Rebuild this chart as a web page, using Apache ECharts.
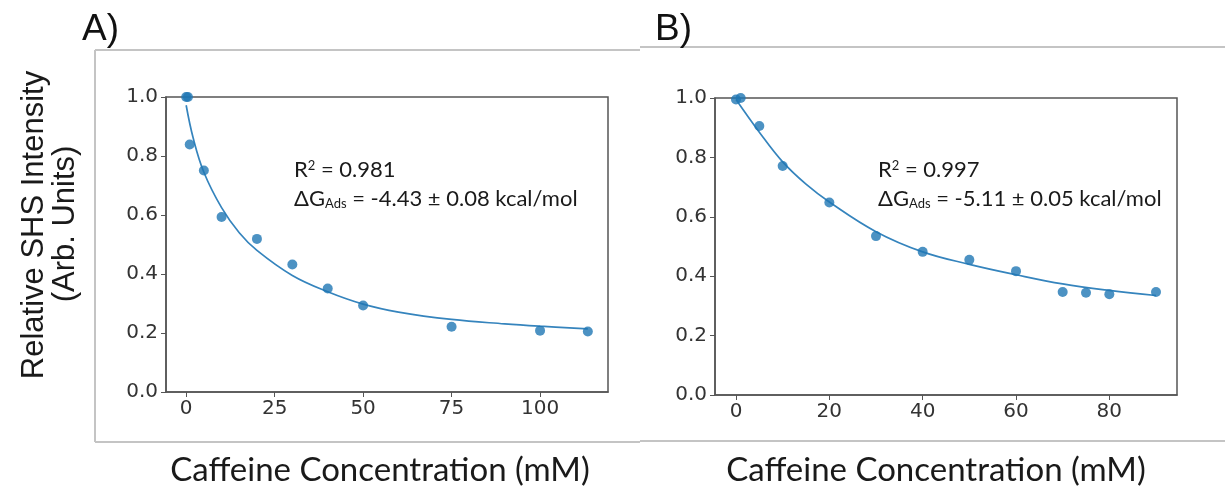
<!DOCTYPE html>
<html>
<head>
<meta charset="utf-8">
<script src="https://cdn.jsdelivr.net/npm/echarts@6/dist/echarts.min.js"></script>
<style>
html, body { margin: 0; padding: 0; background: #fff; }
#chart { width: 1225px; height: 488px; }
</style>
</head>
<body>
<div id="chart"></div>
<script>
// panel A: measured points and fitted curve
const concA = [0, 0.5, 1, 5, 10, 20, 30, 40, 50, 75, 100, 113.5];
const intensityA = [1.0, 1.0, 0.839, 0.751, 0.593, 0.519, 0.432, 0.351, 0.293, 0.221, 0.208, 0.205];
const fitConcA = [0, 2, 5, 10, 15, 20, 30, 40, 50, 60, 75, 90, 100, 113.5];
const fitA = [0.972, 0.86, 0.745, 0.625, 0.54, 0.48, 0.395, 0.34, 0.298, 0.271, 0.246, 0.231, 0.223, 0.214];

// panel B
const concB = [0, 1, 5, 10, 20, 30, 40, 50, 60, 70, 75, 80, 90];
const intensityB = [0.995, 1.0, 0.906, 0.771, 0.648, 0.535, 0.482, 0.455, 0.417, 0.347, 0.344, 0.339, 0.347];
const fitConcB = [0, 5, 10, 15, 20, 30, 40, 50, 60, 70, 80, 90];
const fitB = [0.995, 0.885, 0.785, 0.71, 0.65, 0.55, 0.482, 0.44, 0.405, 0.374, 0.352, 0.335];

const ticksA = [0, 25, 50, 75, 100];
const ticksB = [0, 20, 40, 60, 80];

const blue = "#1f77b4";
const tickFont = { fontFamily: "DejaVu Sans", fontSize: 20, color: "#333" };

const zip = (xs, ys) => xs.map((x, i) => [x, ys[i]]);

function xAxisFor(gridIndex, min, max, ticks) {
  return {
    type: "value",
    gridIndex: gridIndex,
    min: min,
    max: max,
    splitLine: { show: false },
    axisLine: { onZero: false, lineStyle: { color: "#555", width: 1.5 } },
    axisTick: { show: true, length: 5, customValues: ticks, lineStyle: { color: "#555" } },
    axisLabel: Object.assign({ customValues: ticks, margin: 7 }, tickFont),
  };
}

function yAxisFor(gridIndex) {
  return {
    type: "value",
    gridIndex: gridIndex,
    min: 0,
    max: 1,
    interval: 0.2,
    splitLine: { show: false },
    axisLine: { show: true, onZero: false, lineStyle: { color: "#555", width: 1.5 } },
    axisTick: { show: true, length: 5, lineStyle: { color: "#555" } },
    axisLabel: Object.assign({ margin: 8, formatter: (v) => v.toFixed(1) }, tickFont),
  };
}

function annotation(left, r2, dg) {
  const rich = {
    sup: { fontFamily: "Lato", fontSize: 13, verticalAlign: "top", color: "#1a1a1a" },
    sub: { fontFamily: "Lato", fontSize: 13, verticalAlign: "bottom", color: "#1a1a1a" },
  };
  const base = { fontFamily: "Lato", fontSize: 22, fill: "#1a1a1a", rich: rich };
  return [
    { type: "text", left: left, top: 159, style: Object.assign({ text: "R{sup|2} = " + r2 }, base) },
    { type: "text", left: left, top: 188, style: Object.assign({ text: "\u0394G{sub|Ads} = " + dg }, base) },
  ];
}

function frameLine(x1, y1, x2, y2) {
  return { type: "line", shape: { x1: x1, y1: y1, x2: x2, y2: y2 }, style: { stroke: "#c4c4c4", lineWidth: 2 } };
}

const chart = echarts.init(document.getElementById("chart"));

const option = {
  animation: false,
  grid: [
    { left: 166, top: 97, width: 442, height: 295, show: true, borderColor: "#555", borderWidth: 1.5 },
    { left: 715, top: 98, width: 462, height: 297, show: true, borderColor: "#555", borderWidth: 1.5 },
  ],
  xAxis: [xAxisFor(0, -5.7, 119.2, ticksA), xAxisFor(1, -4.5, 94.5, ticksB)],
  yAxis: [yAxisFor(0), yAxisFor(1)],
  series: [
    {
      type: "line", xAxisIndex: 0, yAxisIndex: 0, data: zip(fitConcA, fitA),
      smooth: 0.4, showSymbol: false, lineStyle: { color: "#3584bd", width: 1.7 }, z: 2,
    },
    {
      type: "scatter", xAxisIndex: 0, yAxisIndex: 0, data: zip(concA, intensityA),
      symbolSize: 10, itemStyle: { color: blue }, z: 3,
    },
    {
      type: "line", xAxisIndex: 1, yAxisIndex: 1, data: zip(fitConcB, fitB),
      smooth: 0.4, showSymbol: false, lineStyle: { color: "#3584bd", width: 1.7 }, z: 2,
    },
    {
      type: "scatter", xAxisIndex: 1, yAxisIndex: 1, data: zip(concB, intensityB),
      symbolSize: 10, itemStyle: { color: blue }, z: 3,
    },
  ],
  graphic: [
    // panel frames
    frameLine(95, 50, 640, 50),
    frameLine(95, 50, 95, 442),
    frameLine(95, 442, 640, 442),
    frameLine(640, 47, 1225, 47),
    frameLine(640, 441, 1225, 441),
    // panel letters
    { type: "text", x: 82, y: 30, style: { text: "A)", fontFamily: "Liberation Sans", fontSize: 37, fill: "#111", verticalAlign: "middle" } },
    { type: "text", x: 655, y: 30, style: { text: "B)", fontFamily: "Liberation Sans", fontSize: 37, fill: "#111", verticalAlign: "middle" } },
    // axis titles
    {
      type: "text", x: 34, y: 225, rotation: Math.PI / 2,
      style: { text: "Relative SHS Intensity", fontFamily: "Liberation Sans", fontSize: 31, fill: "#1a1a1a", align: "center", verticalAlign: "middle" },
    },
    {
      type: "text", x: 65, y: 224, rotation: Math.PI / 2,
      style: { text: "(Arb. Units)", fontFamily: "Liberation Sans", fontSize: 31, fill: "#1a1a1a", align: "center", verticalAlign: "middle" },
    },
    {
      type: "text", x: 380, y: 470,
      style: { text: "Caffeine Concentration (mM)", fontFamily: "Lato", fontSize: 33, fill: "#1a1a1a", align: "center", verticalAlign: "middle" },
    },
    {
      type: "text", x: 936, y: 470,
      style: { text: "Caffeine Concentration (mM)", fontFamily: "Lato", fontSize: 33, fill: "#1a1a1a", align: "center", verticalAlign: "middle" },
    },
  ]
    .concat(annotation(294, "0.981", "-4.43 \u00b1 0.08 kcal/mol"))
    .concat(annotation(878, "0.997", "-5.11 \u00b1 0.05 kcal/mol")),
};

chart.setOption(option);
</script>
</body>
</html>
